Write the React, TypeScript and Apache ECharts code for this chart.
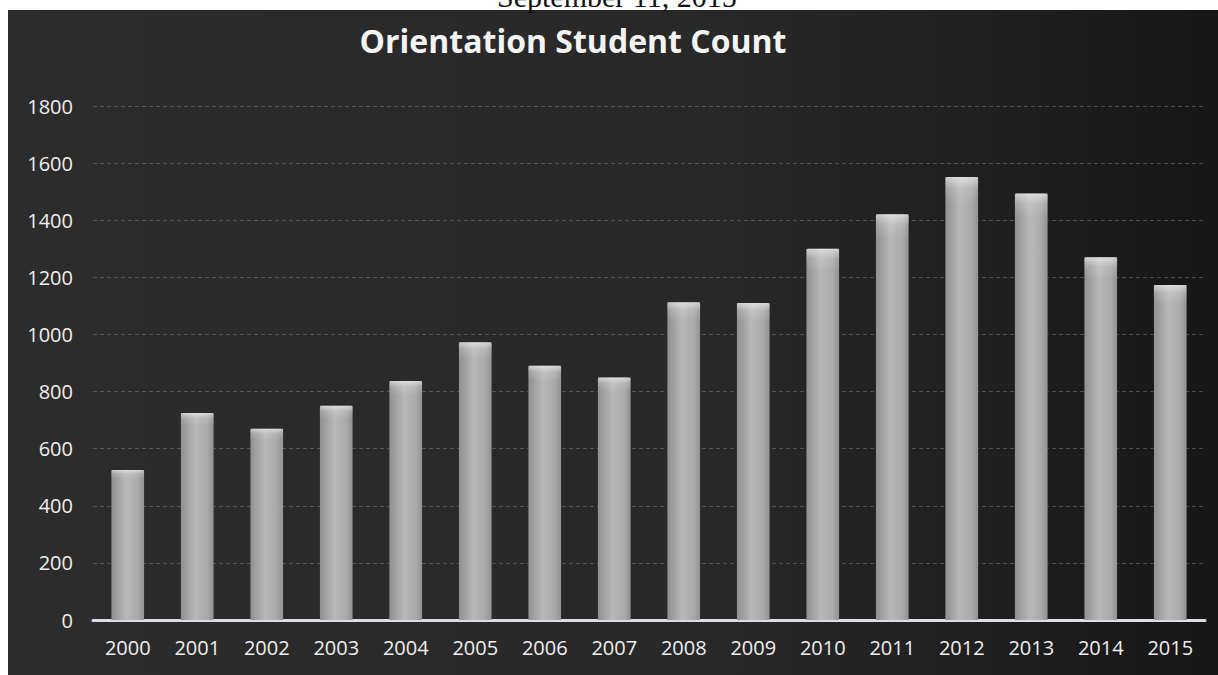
import React, { useEffect, useRef } from "react";
import * as echarts from "echarts";

const years = ["2000","2001","2002","2003","2004","2005","2006","2007","2008","2009","2010","2011","2012","2013","2014","2015"];
const studentCounts = [525, 725, 670, 750, 837, 973, 890, 849, 1113, 1110, 1300, 1421, 1551, 1494, 1270, 1173];
const chartTitle = "Orientation Student Count";
const dateLine = "September 11, 2015";

export default function App() {
  const ref = useRef<HTMLDivElement>(null);
  useEffect(() => {
    document.body.style.margin = "0";
    const chart = echarts.init(ref.current!, null, { renderer: "svg" });
    const font = "'Open Sans', 'Noto Sans', sans-serif";
    chart.setOption({
      animation: false,
      backgroundColor: "#ffffff",
      graphic: [
        {
          type: "rect",
          z: -10,
          silent: true,
          shape: { x: 8, y: 10, width: 1210, height: 665 },
          style: {
            fill: new echarts.graphic.LinearGradient(0, 0, 1, 0, [
              { offset: 0, color: "#2c2c2c" },
              { offset: 0.6, color: "#282828" },
              { offset: 1, color: "#171717" },
            ]),
          },
        },
        {
          type: "text",
          left: 497,
          top: -19,
          z: -5,
          style: {
            text: dateLine,
            font: "30px 'Liberation Serif', 'Times New Roman', serif",
            fill: "#111111",
          },
        },
      ],
      title: {
        text: chartTitle,
        left: 568,
        textAlign: "center",
        top: 19,
        textStyle: { color: "#f4f4f4", fontFamily: font, fontWeight: "bold", fontSize: 32 },
      },
      grid: { left: 93, right: 13, top: 106, bottom: 55, containLabel: false },
      xAxis: {
        type: "category",
        data: years,
        axisLine: { show: true, lineStyle: { color: "#dcdcea", width: 3 } },
        axisTick: { show: false },
        axisLabel: { color: "#eeeeee", fontFamily: font, fontSize: 20, margin: 17 },
      },
      yAxis: {
        type: "value",
        min: 0,
        max: 1800,
        interval: 200,
        axisLine: { show: false },
        axisTick: { show: false },
        axisLabel: { color: "#eeeeee", fontFamily: font, fontSize: 20, margin: 20, formatter: (v: number) => String(v) },
        splitLine: { show: true, lineStyle: { color: "#8a8a8a", width: 1, type: [4, 3], opacity: 0.45 } },
      },
      series: [
        {
          type: "bar",
          data: studentCounts,
          barWidth: "47%",
          itemStyle: {
            color: new echarts.graphic.LinearGradient(0, 0, 1, 0, [
              { offset: 0, color: "#909090" },
              { offset: 0.45, color: "#b8b8b8" },
              { offset: 0.8, color: "#aaaaaa" },
              { offset: 1, color: "#929292" },
            ]),
            borderRadius: [2, 2, 0, 0],
          },
        },
        {
          type: "bar",
          data: studentCounts,
          barWidth: "47%",
          barGap: "-100%",
          silent: true,
          itemStyle: {
            color: new echarts.graphic.LinearGradient(0, 0, 0, 1, [
              { offset: 0, color: "rgba(255,255,255,0.55)" },
              { offset: 0.025, color: "rgba(255,255,255,0.15)" },
              { offset: 0.06, color: "rgba(255,255,255,0)" },
              { offset: 1, color: "rgba(255,255,255,0)" },
            ]),
          },
        },
      ],
    });
    return () => chart.dispose();
  }, []);
  return <div ref={ref} style={{ position: "absolute", left: 0, top: 0, width: 1218, height: 675 }} />;
}
